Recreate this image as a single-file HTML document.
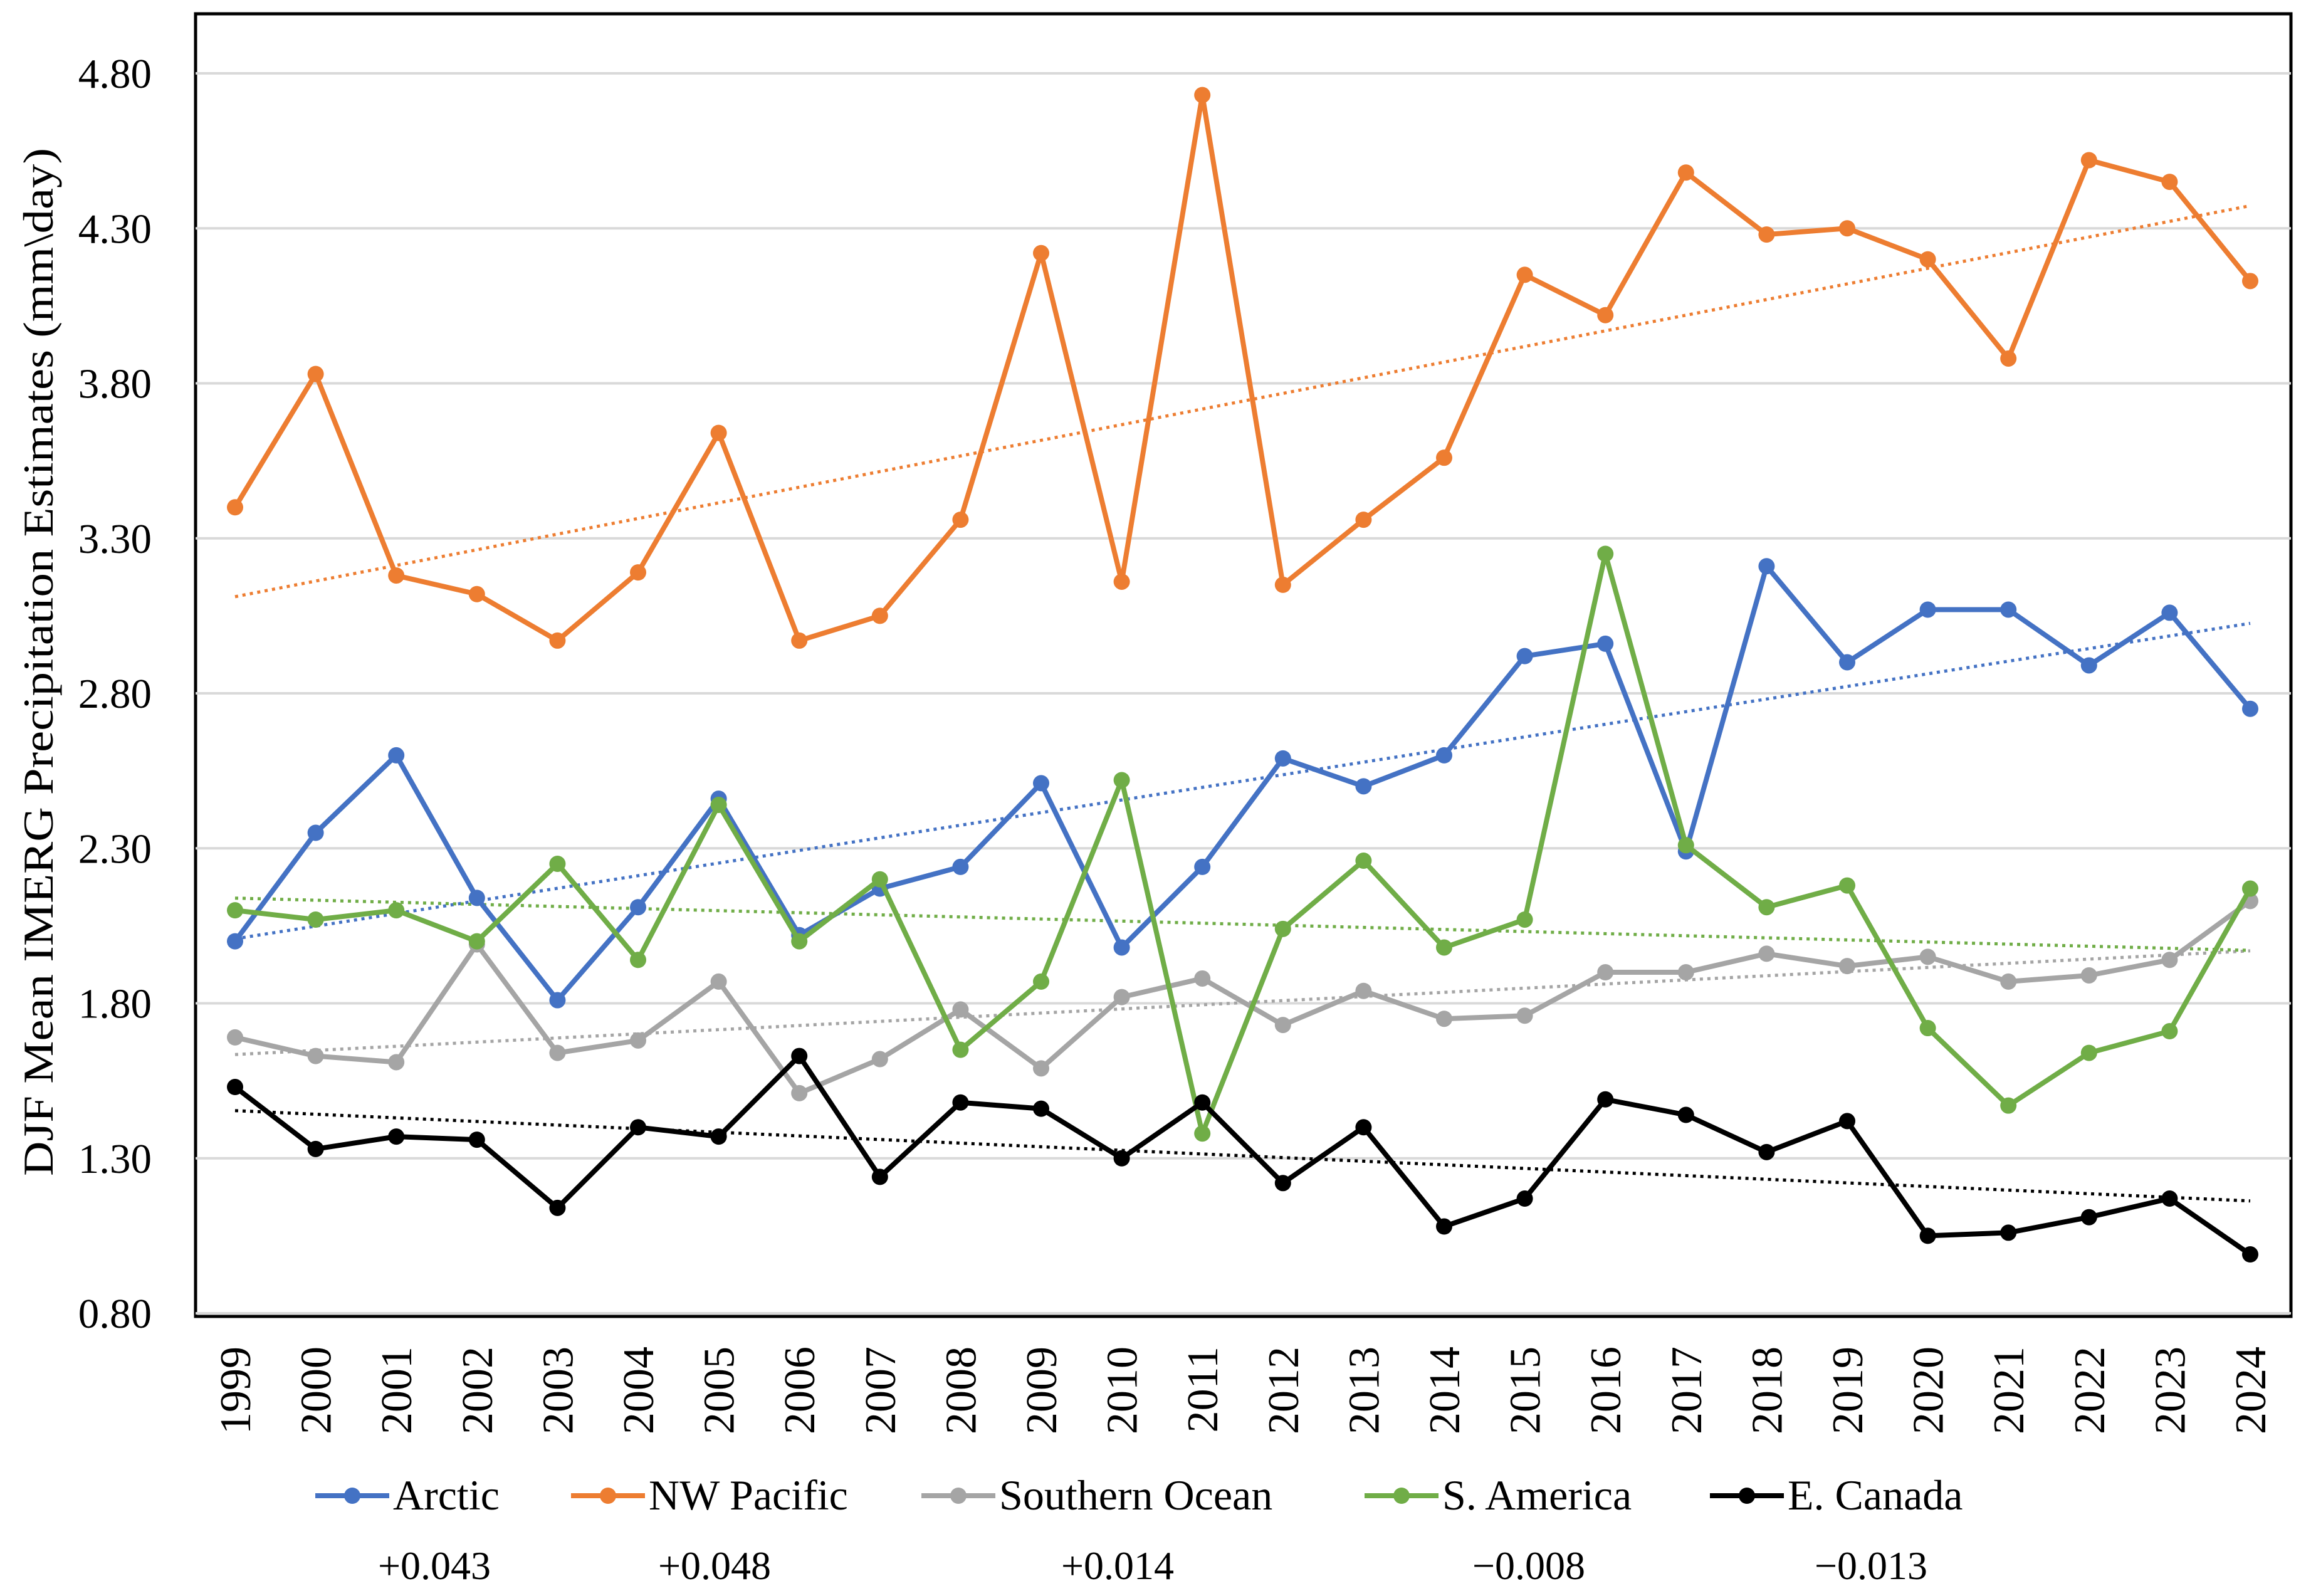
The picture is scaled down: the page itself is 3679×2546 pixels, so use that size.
<!DOCTYPE html>
<html><head><meta charset="utf-8"><style>
html,body{margin:0;padding:0;background:#fff;}
svg{display:block;font-family:"Liberation Serif",serif;}
</style></head><body>
<svg id="chart" width="3679" height="2546" viewBox="0 0 3679 2546" xmlns="http://www.w3.org/2000/svg">
<rect x="312" y="22" width="3343" height="2078" fill="#fff" stroke="#000" stroke-width="5"/>
<g id="grid"></g><g id="trends"></g><g id="series"></g><g id="yticks"></g><g id="xticks"></g>
<text transform="translate(84,1056) rotate(-90)" text-anchor="middle" font-size="68" textLength="1640" lengthAdjust="spacingAndGlyphs">DJF Mean IMERG Precipitation Estimates (mm\day)</text>
<g id="legend"></g>
</svg>
<script>
const years=[1999,2000,2001,2002,2003,2004,2005,2006,2007,2008,2009,2010,2011,2012,2013,2014,2015,2016,2017,2018,2019,2020,2021,2022,2023,2024];
const yTicks=[0.80,1.30,1.80,2.30,2.80,3.30,3.80,4.30,4.80];
const arctic=[2.00,2.35,2.60,2.14,1.81,2.11,2.46,2.02,2.17,2.24,2.51,1.98,2.24,2.59,2.50,2.60,2.92,2.96,2.29,3.21,2.90,3.07,3.07,2.89,3.06,2.75];
const nwPacific=[3.40,3.83,3.18,3.12,2.97,3.19,3.64,2.97,3.05,3.36,4.22,3.16,4.73,3.15,3.36,3.56,4.15,4.02,4.48,4.28,4.30,4.20,3.88,4.52,4.45,4.13];
const southernOcean=[1.69,1.63,1.61,1.99,1.64,1.68,1.87,1.51,1.62,1.78,1.59,1.82,1.88,1.73,1.84,1.75,1.76,1.90,1.90,1.96,1.92,1.95,1.87,1.89,1.94,2.13];
const sAmerica=[2.10,2.07,2.10,2.00,2.25,1.94,2.44,2.00,2.20,1.65,1.87,2.52,1.38,2.04,2.26,1.98,2.07,3.25,2.31,2.11,2.18,1.72,1.47,1.64,1.71,2.17];
const eCanada=[1.53,1.33,1.37,1.36,1.14,1.40,1.37,1.63,1.24,1.48,1.46,1.30,1.48,1.22,1.40,1.08,1.17,1.49,1.44,1.32,1.42,1.05,1.06,1.11,1.17,0.99];
const seriesNames=["Arctic","NW Pacific","Southern Ocean","S. America","E. Canada"];
const slopes=["+0.043","+0.048","+0.014","\u22120.008","\u22120.013"];
const NS="http://www.w3.org/2000/svg";
const X0=375,X1=3590,Y0=2095,Y1=117,VMIN=0.8,VMAX=4.8;
const xs=i=>X0+(X1-X0)*i/(years.length-1);
const ys=v=>Y0-(v-VMIN)/(VMAX-VMIN)*(Y0-Y1);
function mk(tag,attrs,parent){const e=document.createElementNS(NS,tag);for(const k in attrs)e.setAttribute(k,attrs[k]);parent.appendChild(e);return e;}
const grid=document.getElementById('grid'),yt=document.getElementById('yticks'),xt=document.getElementById('xticks');
yTicks.forEach(v=>{
  const l=mk('line',{x1:312,x2:3655,y1:ys(v),y2:ys(v),stroke:'#d9d9d9','stroke-width':4},grid);
  
  
  const t=mk('text',{x:242,y:ys(v)+23,'text-anchor':'end','font-size':67},yt);
  t.textContent=v.toFixed(2);
  
  
});
years.forEach((y,i)=>{
  const t=mk('text',{transform:`translate(${xs(i)+24},2148) rotate(-90)`,'text-anchor':'end','font-size':70},xt);
  t.textContent=y;
  
  
});
const data=[arctic,nwPacific,southernOcean,sAmerica,eCanada];
const colors=["#4472C4","#ED7D31","#A5A5A5","#70AD47","#000000"];
const order=[1,0,2,3,4];
const tr=document.getElementById('trends'),sr=document.getElementById('series');
order.forEach(k=>{
  const d=data[k],n=d.length;let sx=0,sy=0,sxx=0,sxy=0;
  d.forEach((v,i)=>{sx+=i;sy+=v;sxx+=i*i;sxy+=i*v;});
  const b=(n*sxy-sx*sy)/(n*sxx-sx*sx),a=(sy-b*sx)/n;
  const l=mk('line',{x1:xs(0),y1:ys(a),x2:xs(n-1),y2:ys(a+b*(n-1)),stroke:colors[k],'stroke-width':5,'stroke-dasharray':'5 7'},tr);
  
  
  const g=mk('g',{},sr);
  
  
  const p=mk('polyline',{points:d.map((v,i)=>xs(i)+','+ys(v)).join(' '),fill:'none',stroke:colors[k],'stroke-width':8,'stroke-linejoin':'round'},g);
  
  
  d.forEach((v,i)=>{
    const c=mk('circle',{cx:xs(i),cy:ys(v),r:13,fill:colors[k]},g);
    
    
  });
});
const lg=document.getElementById('legend');
const lineX=[503,911,1470,2177,2728];
const valX=[693,1140,1783,2439,2985];
seriesNames.forEach((nm,k)=>{
  const g=mk('g',{},lg);
  
  
  mk('line',{x1:lineX[k],x2:lineX[k]+118,y1:2386,y2:2386,stroke:colors[k],'stroke-width':8},g);
  mk('circle',{cx:lineX[k]+59,cy:2386,r:13,fill:colors[k]},g);
  const t=mk('text',{x:lineX[k]+124,y:2408,'font-size':68},g);
  t.textContent=nm;
  const s=mk('text',{x:valX[k],y:2519,'font-size':64,'text-anchor':'middle'},lg);
  s.textContent=slopes[k];
  
  
});
</script>
</body></html>
